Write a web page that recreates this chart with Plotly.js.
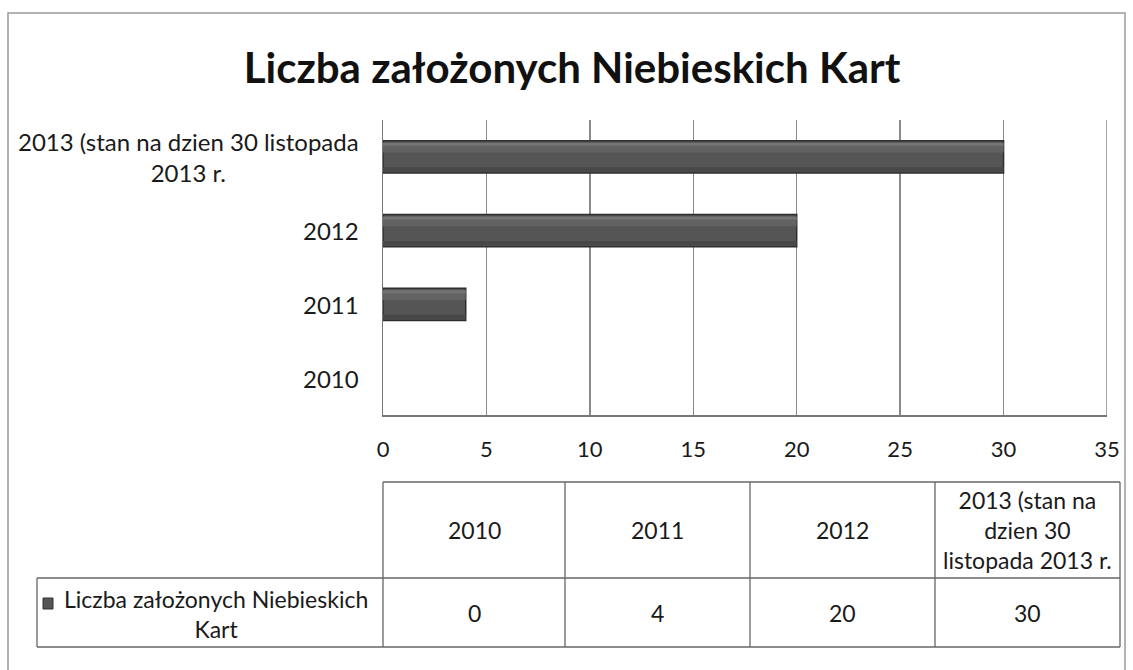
<!DOCTYPE html>
<html>
<head>
<meta charset="utf-8">
<script src="https://cdn.plot.ly/plotly-3.0.1.min.js"></script>
<style>html,body{margin:0;padding:0;background:#fff;}#chart{width:1133px;height:670px;}</style>
</head>
<body>
<div id="chart"></div>
<script>
// ---- data ----
const categories = ['2010', '2011', '2012', '2013 (stan na dzien 30 listopada 2013 r.'];
const values = [0, 4, 20, 30];
const axisLabels = ['2010', '2011', '2012', '2013 (stan na dzien 30 listopada<br>2013 r.'];
const tableHeaders = ['2010', '2011', '2012', '2013 (stan na<br>dzien 30<br>listopada 2013 r.'];
const seriesName = 'Liczba założonych Niebieskich Kart';
const seriesLabel = 'Liczba założonych Niebieskich<br>Kart';
const chartTitle = 'Liczba założonych Niebieskich Kart';
const xRange = [0, 35];

// ---- layout helpers (pixel -> paper) ----
const W = 1133, H = 670;
const PL = 383, PR = 1107, PT = 120, PB = 415;
const px = x => (x - PL) / (PR - PL);
const py = y => (PB - y) / (PB - PT);
const FONT = 'Lato, "Open Sans", sans-serif';
const gridCol = '#8a8a8a';
const lineCol = '#777';
const txt = '#1a1a1a';

const outlineW = values.map(v => (v > 0 ? 1.5 : 0));
const traces = [
  {
    type: 'bar', orientation: 'h', name: seriesName,
    y: categories, x: values,
    width: 0.44, offset: -0.22,
    marker: {color: '#555555', line: {color: '#2e2e2e', width: outlineW}},
    hoverinfo: 'x+y', showlegend: false
  },
  {
    type: 'bar', orientation: 'h', name: seriesName,
    y: categories, x: values,
    width: 0.12, offset: 0.06,
    marker: {color: '#626262', line: {width: 0}},
    hoverinfo: 'skip', showlegend: false
  },
  {
    type: 'bar', orientation: 'h', name: seriesName,
    y: categories, x: values,
    width: 0.04, offset: 0.15,
    marker: {color: '#747474', line: {width: 0}},
    hoverinfo: 'skip', showlegend: false
  },
  {
    type: 'bar', orientation: 'h', name: seriesName,
    y: categories, x: values,
    width: 0.06, offset: -0.2,
    marker: {color: '#484848', line: {width: 0}},
    hoverinfo: 'skip', showlegend: false
  }
];

const shapes = [];
const annotations = [];

// outer frame
shapes.push({type: 'rect', xref: 'paper', yref: 'paper',
  x0: px(8), x1: px(1125), y0: py(680), y1: py(13),
  line: {color: '#9a9a9a', width: 1.5}, fillcolor: 'rgba(0,0,0,0)', layer: 'below'});
// right edge gridline of plot area
shapes.push({type: 'line', xref: 'x', yref: 'paper', x0: xRange[1], x1: xRange[1], y0: 0, y1: 1,
  line: {color: gridCol, width: 1.5}, layer: 'below'});

// category labels (centered multi-line, right edge aligned)
categories.forEach((c, i) => {
  annotations.push({xref: 'paper', yref: 'y', x: px(361), y: i,
    xanchor: 'right', yanchor: 'middle', align: 'center', showarrow: false,
    text: axisLabels[i], font: {family: FONT, size: 24, color: txt}});
});

// data table
const colL = [383, 565, 750, 935], colR = [565, 750, 935, 1120];
const hTop = 482, hBot = 578, vBot = 647, legL = 37;
const tl = {color: '#666', width: 1.3};
shapes.push({type: 'line', xref: 'paper', yref: 'paper', x0: px(383), x1: px(1120), y0: py(hTop), y1: py(hTop), line: tl});
shapes.push({type: 'line', xref: 'paper', yref: 'paper', x0: px(legL), x1: px(1120), y0: py(hBot), y1: py(hBot), line: tl});
shapes.push({type: 'line', xref: 'paper', yref: 'paper', x0: px(legL), x1: px(1120), y0: py(vBot), y1: py(vBot), line: tl});
shapes.push({type: 'line', xref: 'paper', yref: 'paper', x0: px(legL), x1: px(legL), y0: py(hBot), y1: py(vBot), line: tl});
colL.concat([colR[colR.length - 1]]).forEach(x => {
  shapes.push({type: 'line', xref: 'paper', yref: 'paper', x0: px(x), x1: px(x), y0: py(hTop), y1: py(vBot), line: tl});
});
tableHeaders.forEach((t, i) => {
  annotations.push({xref: 'paper', yref: 'paper', x: px((colL[i] + colR[i]) / 2), y: py((hTop + hBot) / 2),
    xanchor: 'center', yanchor: 'middle', align: 'center', showarrow: false,
    text: t, font: {family: FONT, size: 23, color: txt}});
  annotations.push({xref: 'paper', yref: 'paper', x: px((colL[i] + colR[i]) / 2), y: py((hBot + vBot) / 2),
    xanchor: 'center', yanchor: 'middle', align: 'center', showarrow: false,
    text: String(values[i]), font: {family: FONT, size: 23, color: txt}});
});
// legend key + label
shapes.push({type: 'rect', xref: 'paper', yref: 'paper', x0: px(43), x1: px(53), y0: py(609), y1: py(598),
  fillcolor: '#555', line: {color: '#333', width: 1}});
annotations.push({xref: 'paper', yref: 'paper', x: px(216), y: py((hBot + vBot) / 2 + 1),
  xanchor: 'center', yanchor: 'middle', align: 'center', showarrow: false,
  text: seriesLabel, font: {family: FONT, size: 23, color: txt}});

const layout = {
  width: W, height: H,
  paper_bgcolor: '#fff', plot_bgcolor: '#fff',
  margin: {l: PL, r: W - PR, t: PT, b: H - PB, pad: 0},
  barmode: 'overlay',
  title: {text: '<b>' + chartTitle + '</b>', x: 572 / W, xref: 'container', xanchor: 'center',
    y: 1 - 68 / H, yref: 'container', yanchor: 'middle',
    font: {family: FONT, size: 42, color: '#111'}},
  xaxis: {range: xRange, dtick: 5, tick0: 0, showgrid: true, gridcolor: gridCol, gridwidth: 1.5,
    zeroline: false, showline: true, linecolor: lineCol, linewidth: 1.5, ticks: '',
    ticklabelstandoff: 14, tickfont: {family: FONT, size: 22, color: txt}, fixedrange: true},
  yaxis: {type: 'category', categoryorder: 'array', categoryarray: categories, range: [-0.5, 3.5],
    showticklabels: false, showgrid: false, zeroline: false, showline: true, linecolor: lineCol,
    linewidth: 1.5, ticks: '', fixedrange: true},
  shapes: shapes, annotations: annotations, showlegend: false
};

Plotly.newPlot('chart', traces, layout, {staticPlot: true, displayModeBar: false});
</script>
</body>
</html>
